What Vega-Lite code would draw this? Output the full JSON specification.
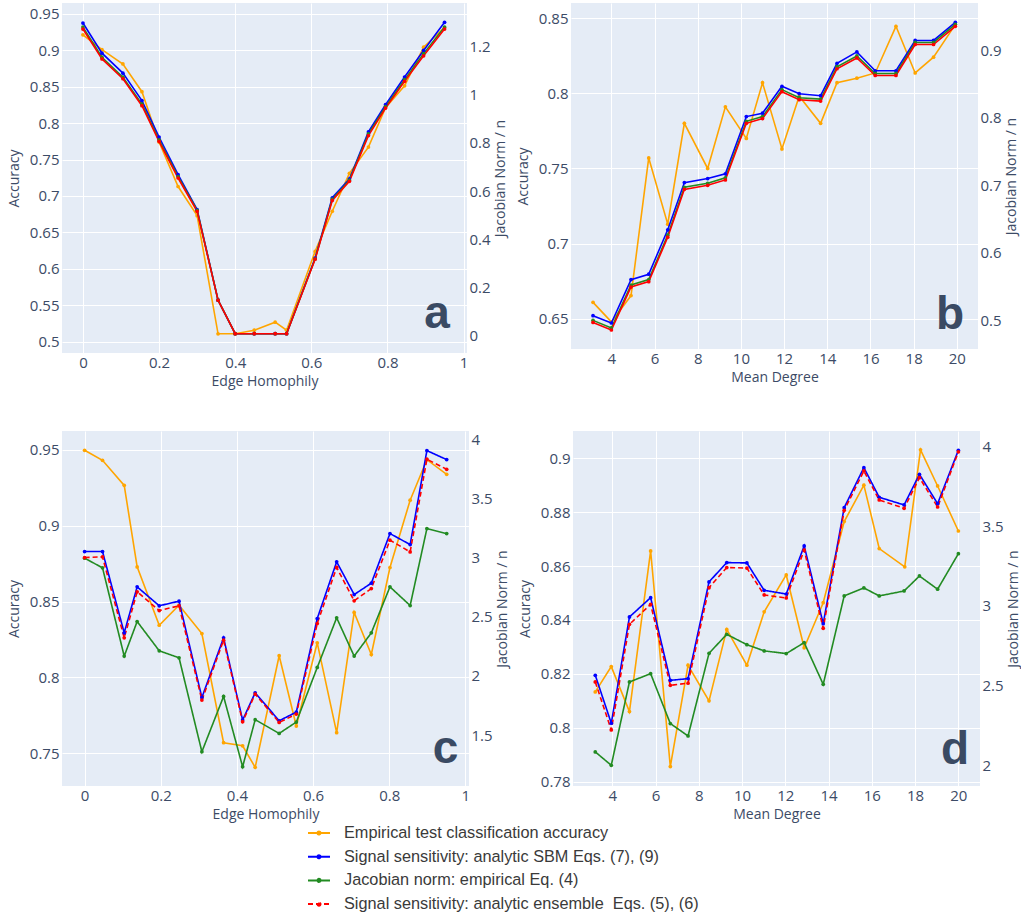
{
"$schema": "https://vega.github.io/schema/vega-lite/v6.json",
"padding": {"left": 7, "top": 3, "right": 0, "bottom": 0},
"background": "white",
"data": {"name": "all"},
"datasets": {"all": [
{"p":"a","s":"acc","x":0,"v":0.921},{"p":"a","s":"acc","x":0.05,"v":0.9006},{"p":"a","s":"acc","x":0.105,"v":0.881},{"p":"a","s":"acc","x":0.155,"v":0.843},{"p":"a","s":"acc","x":0.2,"v":0.774},{"p":"a","s":"acc","x":0.25,"v":0.713},{"p":"a","s":"acc","x":0.3,"v":0.673},{"p":"a","s":"acc","x":0.355,"v":0.511},{"p":"a","s":"acc","x":0.4,"v":0.511},{"p":"a","s":"acc","x":0.45,"v":0.516},{"p":"a","s":"acc","x":0.505,"v":0.527},{"p":"a","s":"acc","x":0.535,"v":0.516},{"p":"a","s":"acc","x":0.61,"v":0.624},{"p":"a","s":"acc","x":0.655,"v":0.679},{"p":"a","s":"acc","x":0.7,"v":0.731},{"p":"a","s":"acc","x":0.75,"v":0.767},{"p":"a","s":"acc","x":0.795,"v":0.821},{"p":"a","s":"acc","x":0.845,"v":0.851},{"p":"a","s":"acc","x":0.895,"v":0.904},{"p":"a","s":"acc","x":0.95,"v":0.931},
{"p":"a","s":"sbm","x":0,"v":1.297},{"p":"a","s":"sbm","x":0.05,"v":1.172},{"p":"a","s":"sbm","x":0.105,"v":1.089},{"p":"a","s":"sbm","x":0.155,"v":0.975},{"p":"a","s":"sbm","x":0.2,"v":0.824},{"p":"a","s":"sbm","x":0.25,"v":0.668},{"p":"a","s":"sbm","x":0.3,"v":0.523},{"p":"a","s":"sbm","x":0.355,"v":0.147},{"p":"a","s":"sbm","x":0.4,"v":0.008},{"p":"a","s":"sbm","x":0.45,"v":0.008},{"p":"a","s":"sbm","x":0.505,"v":0.008},{"p":"a","s":"sbm","x":0.535,"v":0.008},{"p":"a","s":"sbm","x":0.61,"v":0.322},{"p":"a","s":"sbm","x":0.655,"v":0.572},{"p":"a","s":"sbm","x":0.7,"v":0.65},{"p":"a","s":"sbm","x":0.75,"v":0.845},{"p":"a","s":"sbm","x":0.795,"v":0.958},{"p":"a","s":"sbm","x":0.845,"v":1.073},{"p":"a","s":"sbm","x":0.895,"v":1.183},{"p":"a","s":"sbm","x":0.95,"v":1.3},
{"p":"a","s":"jac","x":0,"v":1.28},{"p":"a","s":"jac","x":0.05,"v":1.155},{"p":"a","s":"jac","x":0.105,"v":1.072},{"p":"a","s":"jac","x":0.155,"v":0.96},{"p":"a","s":"jac","x":0.2,"v":0.812},{"p":"a","s":"jac","x":0.25,"v":0.66},{"p":"a","s":"jac","x":0.3,"v":0.52},{"p":"a","s":"jac","x":0.355,"v":0.147},{"p":"a","s":"jac","x":0.4,"v":0.008},{"p":"a","s":"jac","x":0.45,"v":0.008},{"p":"a","s":"jac","x":0.505,"v":0.008},{"p":"a","s":"jac","x":0.535,"v":0.008},{"p":"a","s":"jac","x":0.61,"v":0.319},{"p":"a","s":"jac","x":0.655,"v":0.566},{"p":"a","s":"jac","x":0.7,"v":0.645},{"p":"a","s":"jac","x":0.75,"v":0.837},{"p":"a","s":"jac","x":0.795,"v":0.95},{"p":"a","s":"jac","x":0.845,"v":1.062},{"p":"a","s":"jac","x":0.895,"v":1.17},{"p":"a","s":"jac","x":0.95,"v":1.28},
{"p":"a","s":"ens","x":0,"v":1.272},{"p":"a","s":"ens","x":0.05,"v":1.148},{"p":"a","s":"ens","x":0.105,"v":1.066},{"p":"a","s":"ens","x":0.155,"v":0.954},{"p":"a","s":"ens","x":0.2,"v":0.806},{"p":"a","s":"ens","x":0.25,"v":0.654},{"p":"a","s":"ens","x":0.3,"v":0.516},{"p":"a","s":"ens","x":0.355,"v":0.147},{"p":"a","s":"ens","x":0.4,"v":0.008},{"p":"a","s":"ens","x":0.45,"v":0.008},{"p":"a","s":"ens","x":0.505,"v":0.008},{"p":"a","s":"ens","x":0.535,"v":0.008},{"p":"a","s":"ens","x":0.61,"v":0.317},{"p":"a","s":"ens","x":0.655,"v":0.561},{"p":"a","s":"ens","x":0.7,"v":0.64},{"p":"a","s":"ens","x":0.75,"v":0.83},{"p":"a","s":"ens","x":0.795,"v":0.944},{"p":"a","s":"ens","x":0.845,"v":1.055},{"p":"a","s":"ens","x":0.895,"v":1.161},{"p":"a","s":"ens","x":0.95,"v":1.272},
{"p":"b","s":"acc","x":3.15,"v":0.661},{"p":"b","s":"acc","x":4,"v":0.648},{"p":"b","s":"acc","x":4.91,"v":0.6655},{"p":"b","s":"acc","x":5.73,"v":0.757},{"p":"b","s":"acc","x":6.61,"v":0.713},{"p":"b","s":"acc","x":7.38,"v":0.78},{"p":"b","s":"acc","x":8.46,"v":0.75},{"p":"b","s":"acc","x":9.28,"v":0.791},{"p":"b","s":"acc","x":10.25,"v":0.77},{"p":"b","s":"acc","x":11.0,"v":0.807},{"p":"b","s":"acc","x":11.9,"v":0.763},{"p":"b","s":"acc","x":12.7,"v":0.798},{"p":"b","s":"acc","x":13.69,"v":0.78},{"p":"b","s":"acc","x":14.45,"v":0.807},{"p":"b","s":"acc","x":15.37,"v":0.81},{"p":"b","s":"acc","x":16.22,"v":0.8135},{"p":"b","s":"acc","x":17.18,"v":0.8445},{"p":"b","s":"acc","x":18.07,"v":0.8135},{"p":"b","s":"acc","x":18.92,"v":0.824},{"p":"b","s":"acc","x":19.93,"v":0.8456},
{"p":"b","s":"sbm","x":3.15,"v":0.5064},{"p":"b","s":"sbm","x":4,"v":0.4956},{"p":"b","s":"sbm","x":4.91,"v":0.56},{"p":"b","s":"sbm","x":5.73,"v":0.568},{"p":"b","s":"sbm","x":6.61,"v":0.634},{"p":"b","s":"sbm","x":7.38,"v":0.704},{"p":"b","s":"sbm","x":8.46,"v":0.71},{"p":"b","s":"sbm","x":9.28,"v":0.717},{"p":"b","s":"sbm","x":10.25,"v":0.802},{"p":"b","s":"sbm","x":11.0,"v":0.807},{"p":"b","s":"sbm","x":11.9,"v":0.847},{"p":"b","s":"sbm","x":12.7,"v":0.836},{"p":"b","s":"sbm","x":13.69,"v":0.833},{"p":"b","s":"sbm","x":14.45,"v":0.881},{"p":"b","s":"sbm","x":15.37,"v":0.898},{"p":"b","s":"sbm","x":16.22,"v":0.87},{"p":"b","s":"sbm","x":17.18,"v":0.87},{"p":"b","s":"sbm","x":18.07,"v":0.915},{"p":"b","s":"sbm","x":18.92,"v":0.915},{"p":"b","s":"sbm","x":19.93,"v":0.942},
{"p":"b","s":"jac","x":3.15,"v":0.4995},{"p":"b","s":"jac","x":4,"v":0.4882},{"p":"b","s":"jac","x":4.91,"v":0.552},{"p":"b","s":"jac","x":5.73,"v":0.56},{"p":"b","s":"jac","x":6.61,"v":0.626},{"p":"b","s":"jac","x":7.38,"v":0.697},{"p":"b","s":"jac","x":8.46,"v":0.703},{"p":"b","s":"jac","x":9.28,"v":0.711},{"p":"b","s":"jac","x":10.25,"v":0.795},{"p":"b","s":"jac","x":11.0,"v":0.802},{"p":"b","s":"jac","x":11.9,"v":0.842},{"p":"b","s":"jac","x":12.7,"v":0.83},{"p":"b","s":"jac","x":13.69,"v":0.828},{"p":"b","s":"jac","x":14.45,"v":0.876},{"p":"b","s":"jac","x":15.37,"v":0.892},{"p":"b","s":"jac","x":16.22,"v":0.866},{"p":"b","s":"jac","x":17.18,"v":0.866},{"p":"b","s":"jac","x":18.07,"v":0.912},{"p":"b","s":"jac","x":18.92,"v":0.912},{"p":"b","s":"jac","x":19.93,"v":0.939},
{"p":"b","s":"ens","x":3.15,"v":0.4965},{"p":"b","s":"ens","x":4,"v":0.4852},{"p":"b","s":"ens","x":4.91,"v":0.549},{"p":"b","s":"ens","x":5.73,"v":0.557},{"p":"b","s":"ens","x":6.61,"v":0.623},{"p":"b","s":"ens","x":7.38,"v":0.694},{"p":"b","s":"ens","x":8.46,"v":0.7},{"p":"b","s":"ens","x":9.28,"v":0.708},{"p":"b","s":"ens","x":10.25,"v":0.792},{"p":"b","s":"ens","x":11.0,"v":0.799},{"p":"b","s":"ens","x":11.9,"v":0.839},{"p":"b","s":"ens","x":12.7,"v":0.827},{"p":"b","s":"ens","x":13.69,"v":0.825},{"p":"b","s":"ens","x":14.45,"v":0.873},{"p":"b","s":"ens","x":15.37,"v":0.889},{"p":"b","s":"ens","x":16.22,"v":0.863},{"p":"b","s":"ens","x":17.18,"v":0.863},{"p":"b","s":"ens","x":18.07,"v":0.909},{"p":"b","s":"ens","x":18.92,"v":0.909},{"p":"b","s":"ens","x":19.93,"v":0.936},
{"p":"c","s":"acc","x":0,"v":0.9496},{"p":"c","s":"acc","x":0.047,"v":0.943},{"p":"c","s":"acc","x":0.104,"v":0.9265},{"p":"c","s":"acc","x":0.138,"v":0.8728},{"p":"c","s":"acc","x":0.196,"v":0.8344},{"p":"c","s":"acc","x":0.248,"v":0.8476},{"p":"c","s":"acc","x":0.308,"v":0.8289},{"p":"c","s":"acc","x":0.365,"v":0.757},{"p":"c","s":"acc","x":0.415,"v":0.755},{"p":"c","s":"acc","x":0.448,"v":0.7408},{"p":"c","s":"acc","x":0.511,"v":0.8143},{"p":"c","s":"acc","x":0.556,"v":0.768},{"p":"c","s":"acc","x":0.611,"v":0.8228},{"p":"c","s":"acc","x":0.662,"v":0.7636},{"p":"c","s":"acc","x":0.708,"v":0.8428},{"p":"c","s":"acc","x":0.753,"v":0.8151},{"p":"c","s":"acc","x":0.802,"v":0.8724},{"p":"c","s":"acc","x":0.855,"v":0.9167},{"p":"c","s":"acc","x":0.899,"v":0.9434},{"p":"c","s":"acc","x":0.951,"v":0.9338},
{"p":"c","s":"sbm","x":0,"v":3.053},{"p":"c","s":"sbm","x":0.047,"v":3.053},{"p":"c","s":"sbm","x":0.104,"v":2.365},{"p":"c","s":"sbm","x":0.138,"v":2.754},{"p":"c","s":"sbm","x":0.196,"v":2.594},{"p":"c","s":"sbm","x":0.248,"v":2.633},{"p":"c","s":"sbm","x":0.308,"v":1.818},{"p":"c","s":"sbm","x":0.365,"v":2.323},{"p":"c","s":"sbm","x":0.415,"v":1.627},{"p":"c","s":"sbm","x":0.448,"v":1.858},{"p":"c","s":"sbm","x":0.511,"v":1.621},{"p":"c","s":"sbm","x":0.556,"v":1.694},{"p":"c","s":"sbm","x":0.611,"v":2.486},{"p":"c","s":"sbm","x":0.662,"v":2.966},{"p":"c","s":"sbm","x":0.708,"v":2.689},{"p":"c","s":"sbm","x":0.753,"v":2.785},{"p":"c","s":"sbm","x":0.802,"v":3.205},{"p":"c","s":"sbm","x":0.855,"v":3.112},{"p":"c","s":"sbm","x":0.899,"v":3.907},{"p":"c","s":"sbm","x":0.951,"v":3.831},
{"p":"c","s":"jac","x":0,"v":2.997},{"p":"c","s":"jac","x":0.047,"v":2.915},{"p":"c","s":"jac","x":0.104,"v":2.168},{"p":"c","s":"jac","x":0.138,"v":2.461},{"p":"c","s":"jac","x":0.196,"v":2.213},{"p":"c","s":"jac","x":0.248,"v":2.154},{"p":"c","s":"jac","x":0.308,"v":1.359},{"p":"c","s":"jac","x":0.365,"v":1.827},{"p":"c","s":"jac","x":0.415,"v":1.232},{"p":"c","s":"jac","x":0.448,"v":1.63},{"p":"c","s":"jac","x":0.511,"v":1.514},{"p":"c","s":"jac","x":0.556,"v":1.61},{"p":"c","s":"jac","x":0.611,"v":2.072},{"p":"c","s":"jac","x":0.662,"v":2.492},{"p":"c","s":"jac","x":0.708,"v":2.168},{"p":"c","s":"jac","x":0.753,"v":2.365},{"p":"c","s":"jac","x":0.802,"v":2.754},{"p":"c","s":"jac","x":0.855,"v":2.596},{"p":"c","s":"jac","x":0.899,"v":3.247},{"p":"c","s":"jac","x":0.951,"v":3.205},
{"p":"c","s":"ens","x":0,"v":3.002},{"p":"c","s":"ens","x":0.047,"v":3.008},{"p":"c","s":"ens","x":0.104,"v":2.323},{"p":"c","s":"ens","x":0.138,"v":2.712},{"p":"c","s":"ens","x":0.196,"v":2.554},{"p":"c","s":"ens","x":0.248,"v":2.594},{"p":"c","s":"ens","x":0.308,"v":1.796},{"p":"c","s":"ens","x":0.365,"v":2.303},{"p":"c","s":"ens","x":0.415,"v":1.613},{"p":"c","s":"ens","x":0.448,"v":1.847},{"p":"c","s":"ens","x":0.511,"v":1.607},{"p":"c","s":"ens","x":0.556,"v":1.678},{"p":"c","s":"ens","x":0.611,"v":2.444},{"p":"c","s":"ens","x":0.662,"v":2.918},{"p":"c","s":"ens","x":0.708,"v":2.636},{"p":"c","s":"ens","x":0.753,"v":2.74},{"p":"c","s":"ens","x":0.802,"v":3.149},{"p":"c","s":"ens","x":0.855,"v":3.05},{"p":"c","s":"ens","x":0.899,"v":3.834},{"p":"c","s":"ens","x":0.951,"v":3.749},
{"p":"d","s":"acc","x":3.21,"v":0.8133},{"p":"d","s":"acc","x":3.95,"v":0.8227},{"p":"d","s":"acc","x":4.79,"v":0.806},{"p":"d","s":"acc","x":5.77,"v":0.8656},{"p":"d","s":"acc","x":6.68,"v":0.7856},{"p":"d","s":"acc","x":7.5,"v":0.8232},{"p":"d","s":"acc","x":8.47,"v":0.81},{"p":"d","s":"acc","x":9.29,"v":0.8365},{"p":"d","s":"acc","x":10.22,"v":0.8232},{"p":"d","s":"acc","x":11.02,"v":0.843},{"p":"d","s":"acc","x":12.04,"v":0.8567},{"p":"d","s":"acc","x":12.87,"v":0.8297},{"p":"d","s":"acc","x":13.75,"v":0.8464},{"p":"d","s":"acc","x":14.72,"v":0.8765},{"p":"d","s":"acc","x":15.63,"v":0.89},{"p":"d","s":"acc","x":16.34,"v":0.8665},{"p":"d","s":"acc","x":17.52,"v":0.8597},{"p":"d","s":"acc","x":18.25,"v":0.9031},{"p":"d","s":"acc","x":19.04,"v":0.8897},{"p":"d","s":"acc","x":20.0,"v":0.873},
{"p":"d","s":"sbm","x":3.21,"v":2.565},{"p":"d","s":"sbm","x":3.95,"v":2.264},{"p":"d","s":"sbm","x":4.79,"v":2.931},{"p":"d","s":"sbm","x":5.77,"v":3.052},{"p":"d","s":"sbm","x":6.68,"v":2.533},{"p":"d","s":"sbm","x":7.5,"v":2.544},{"p":"d","s":"sbm","x":8.47,"v":3.151},{"p":"d","s":"sbm","x":9.29,"v":3.272},{"p":"d","s":"sbm","x":10.22,"v":3.27},{"p":"d","s":"sbm","x":11.02,"v":3.098},{"p":"d","s":"sbm","x":12.04,"v":3.075},{"p":"d","s":"sbm","x":12.87,"v":3.377},{"p":"d","s":"sbm","x":13.75,"v":2.889},{"p":"d","s":"sbm","x":14.72,"v":3.617},{"p":"d","s":"sbm","x":15.63,"v":3.868},{"p":"d","s":"sbm","x":16.34,"v":3.682},{"p":"d","s":"sbm","x":17.49,"v":3.634},{"p":"d","s":"sbm","x":18.2,"v":3.826},{"p":"d","s":"sbm","x":19.04,"v":3.642},{"p":"d","s":"sbm","x":20.0,"v":3.977},
{"p":"d","s":"jac","x":3.21,"v":2.084},{"p":"d","s":"jac","x":3.95,"v":2.0},{"p":"d","s":"jac","x":4.79,"v":2.523},{"p":"d","s":"jac","x":5.77,"v":2.575},{"p":"d","s":"jac","x":6.68,"v":2.262},{"p":"d","s":"jac","x":7.5,"v":2.184},{"p":"d","s":"jac","x":8.47,"v":2.703},{"p":"d","s":"jac","x":9.29,"v":2.822},{"p":"d","s":"jac","x":10.22,"v":2.757},{"p":"d","s":"jac","x":11.02,"v":2.718},{"p":"d","s":"jac","x":12.04,"v":2.701},{"p":"d","s":"jac","x":12.87,"v":2.77},{"p":"d","s":"jac","x":13.75,"v":2.508},{"p":"d","s":"jac","x":14.72,"v":3.063},{"p":"d","s":"jac","x":15.63,"v":3.113},{"p":"d","s":"jac","x":16.34,"v":3.063},{"p":"d","s":"jac","x":17.49,"v":3.094},{"p":"d","s":"jac","x":18.2,"v":3.188},{"p":"d","s":"jac","x":19.04,"v":3.105},{"p":"d","s":"jac","x":20.0,"v":3.328},
{"p":"d","s":"ens","x":3.21,"v":2.523},{"p":"d","s":"ens","x":3.95,"v":2.222},{"p":"d","s":"ens","x":4.79,"v":2.885},{"p":"d","s":"ens","x":5.77,"v":3.01},{"p":"d","s":"ens","x":6.68,"v":2.502},{"p":"d","s":"ens","x":7.5,"v":2.515},{"p":"d","s":"ens","x":8.47,"v":3.115},{"p":"d","s":"ens","x":9.29,"v":3.241},{"p":"d","s":"ens","x":10.22,"v":3.238},{"p":"d","s":"ens","x":11.02,"v":3.069},{"p":"d","s":"ens","x":12.04,"v":3.05},{"p":"d","s":"ens","x":12.87,"v":3.351},{"p":"d","s":"ens","x":13.75,"v":2.86},{"p":"d","s":"ens","x":14.72,"v":3.6},{"p":"d","s":"ens","x":15.63,"v":3.847},{"p":"d","s":"ens","x":16.34,"v":3.665},{"p":"d","s":"ens","x":17.49,"v":3.613},{"p":"d","s":"ens","x":18.2,"v":3.805},{"p":"d","s":"ens","x":19.04,"v":3.621},{"p":"d","s":"ens","x":20.0,"v":3.967}
]},
"vconcat": [
{"hconcat": [
{"width": 405, "height": 350,
 "layer": [
  {"layer": [
    {"transform": [{"filter": "datum.p == 'a' && datum.s == 'acc'"}],
     "mark": {"type": "line", "strokeWidth": 1.6, "point": {"filled": true, "size": 14}},
     "encoding": {
      "x": {"field": "x", "type": "quantitative", "scale": {"domain": [-0.055, 1.009], "nice": false, "zero": false}, "axis": {"title": "Edge Homophily", "values": [0, 0.2, 0.4, 0.6, 0.8, 1], "format": "~g"}},
      "y": {"field": "v", "type": "quantitative", "scale": {"domain": [0.4847, 0.9646], "nice": false, "zero": false}, "axis": {"title": "Accuracy", "values": [0.5, 0.55, 0.6, 0.65, 0.7, 0.75, 0.8, 0.85, 0.9, 0.95], "format": "~g"}},
      "color": {"field": "s", "type": "nominal", "scale": {"domain": ["acc", "sbm", "jac", "ens"], "range": ["#FFA500", "#0000FF", "#228B22", "#FF0000"]}, "legend": {"title": null, "orient": "none", "legendX": 245, "legendY": 818, "direction": "vertical", "labelExpr": "{'acc':'Empirical test classification accuracy','sbm':'Signal sensitivity: analytic SBM Eqs. (7), (9)','jac':'Jacobian norm: empirical Eq. (4)','ens':'\u00a0Signal sensitivity: analytic ensemble\u00a0 Eqs. (5), (6)'}[datum.label]"}}}},
    {"data": {"values": [{}]},
     "mark": {"type": "text", "font": "Liberation Sans", "fontWeight": "bold", "fontSize": 46, "color": "#3a4a63", "align": "center", "baseline": "alphabetic"},
     "encoding": {"x": {"datum": 0.93, "type": "quantitative", "axis": {"title": "Edge Homophily", "values": [0, 0.2, 0.4, 0.6, 0.8, 1], "format": "~g"}}, "y": {"datum": 0.519, "type": "quantitative", "axis": {"title": "Accuracy", "values": [0.5, 0.55, 0.6, 0.65, 0.7, 0.75, 0.8, 0.85, 0.9, 0.95], "format": "~g"}}, "text": {"value": "a"}}}
  ]},
  {"transform": [{"filter": "datum.p == 'a' && datum.s != 'acc'"}],
   "mark": {"type": "line", "strokeWidth": 1.6, "point": {"filled": true, "size": 14}},
   "encoding": {
    "x": {"field": "x", "type": "quantitative", "axis": {"title": "Edge Homophily", "values": [0, 0.2, 0.4, 0.6, 0.8, 1], "format": "~g"}},
    "y": {"field": "v", "type": "quantitative", "scale": {"domain": [-0.072, 1.38], "nice": false, "zero": false}, "axis": {"orient": "right", "grid": false, "title": "Jacobian Norm / n", "titleAngle": 270, "titleBaseline": "top", "values": [0, 0.2, 0.4, 0.6, 0.8, 1, 1.2], "format": "~g"}},
    "color": {"field": "s", "type": "nominal", "legend": {"title": null, "orient": "none", "legendX": 245, "legendY": 818, "direction": "vertical", "labelExpr": "{'acc':'Empirical test classification accuracy','sbm':'Signal sensitivity: analytic SBM Eqs. (7), (9)','jac':'Jacobian norm: empirical Eq. (4)','ens':'\u00a0Signal sensitivity: analytic ensemble\u00a0 Eqs. (5), (6)'}[datum.label]"}}}}
 ],
 "resolve": {"scale": {"y": "independent"}}},
{"width": 407, "height": 346,
 "layer": [
  {"layer": [
    {"transform": [{"filter": "datum.p == 'b' && datum.s == 'acc'"}],
     "mark": {"type": "line", "strokeWidth": 1.6, "point": {"filled": true, "size": 14}},
     "encoding": {
      "x": {"field": "x", "type": "quantitative", "scale": {"domain": [2.13, 20.98], "nice": false, "zero": false}, "axis": {"title": "Mean Degree", "values": [4, 6, 8, 10, 12, 14, 16, 18, 20]}},
      "y": {"field": "v", "type": "quantitative", "scale": {"domain": [0.63, 0.86], "nice": false, "zero": false}, "axis": {"title": "Accuracy", "values": [0.65, 0.7, 0.75, 0.8, 0.85], "format": "~g"}},
      "color": {"field": "s", "type": "nominal", "legend": {"title": null, "orient": "none", "legendX": 245, "legendY": 818, "direction": "vertical", "labelExpr": "{'acc':'Empirical test classification accuracy','sbm':'Signal sensitivity: analytic SBM Eqs. (7), (9)','jac':'Jacobian norm: empirical Eq. (4)','ens':'\u00a0Signal sensitivity: analytic ensemble\u00a0 Eqs. (5), (6)'}[datum.label]"}}}},
    {"data": {"values": [{}]},
     "mark": {"type": "text", "font": "Liberation Sans", "fontWeight": "bold", "fontSize": 46, "color": "#3a4a63", "align": "center", "baseline": "alphabetic"},
     "encoding": {"x": {"datum": 19.69, "type": "quantitative", "axis": {"title": "Mean Degree", "values": [4, 6, 8, 10, 12, 14, 16, 18, 20]}}, "y": {"datum": 0.6434, "type": "quantitative", "axis": {"title": "Accuracy", "values": [0.65, 0.7, 0.75, 0.8, 0.85], "format": "~g"}}, "text": {"value": "b"}}}
  ]},
  {"transform": [{"filter": "datum.p == 'b' && datum.s != 'acc'"}],
   "mark": {"type": "line", "strokeWidth": 1.6, "point": {"filled": true, "size": 14}},
   "encoding": {
    "x": {"field": "x", "type": "quantitative", "axis": {"title": "Mean Degree", "values": [4, 6, 8, 10, 12, 14, 16, 18, 20]}},
    "y": {"field": "v", "type": "quantitative", "scale": {"domain": [0.457, 0.9706], "nice": false, "zero": false}, "axis": {"orient": "right", "grid": false, "title": "Jacobian Norm / n", "titleAngle": 270, "titleBaseline": "top", "values": [0.5, 0.6, 0.7, 0.8, 0.9], "format": "~g"}},
    "color": {"field": "s", "type": "nominal", "legend": {"title": null, "orient": "none", "legendX": 245, "legendY": 818, "direction": "vertical", "labelExpr": "{'acc':'Empirical test classification accuracy','sbm':'Signal sensitivity: analytic SBM Eqs. (7), (9)','jac':'Jacobian norm: empirical Eq. (4)','ens':'\u00a0Signal sensitivity: analytic ensemble\u00a0 Eqs. (5), (6)'}[datum.label]"}}}}
 ],
 "resolve": {"scale": {"y": "independent"}}}
], "spacing": 8},
{"hconcat": [
{"width": 407, "height": 355,
 "layer": [
  {"layer": [
    {"transform": [{"filter": "datum.p == 'c' && datum.s == 'acc'"}],
     "mark": {"type": "line", "strokeWidth": 1.6, "point": {"filled": true, "size": 14}},
     "encoding": {
      "x": {"field": "x", "type": "quantitative", "scale": {"domain": [-0.0594, 1.0096], "nice": false, "zero": false}, "axis": {"title": "Edge Homophily", "values": [0, 0.2, 0.4, 0.6, 0.8, 1], "format": "~g"}},
      "y": {"field": "v", "type": "quantitative", "scale": {"domain": [0.7285, 0.9623], "nice": false, "zero": false}, "axis": {"title": "Accuracy", "values": [0.75, 0.8, 0.85, 0.9, 0.95], "format": "~g"}},
      "color": {"field": "s", "type": "nominal", "legend": {"title": null, "orient": "none", "legendX": 245, "legendY": 818, "direction": "vertical", "labelExpr": "{'acc':'Empirical test classification accuracy','sbm':'Signal sensitivity: analytic SBM Eqs. (7), (9)','jac':'Jacobian norm: empirical Eq. (4)','ens':'\u00a0Signal sensitivity: analytic ensemble\u00a0 Eqs. (5), (6)'}[datum.label]"}}}},
    {"data": {"values": [{}]},
     "mark": {"type": "text", "font": "Liberation Sans", "fontWeight": "bold", "fontSize": 46, "color": "#3a4a63", "align": "center", "baseline": "alphabetic"},
     "encoding": {"x": {"datum": 0.948, "type": "quantitative", "axis": {"title": "Edge Homophily", "values": [0, 0.2, 0.4, 0.6, 0.8, 1], "format": "~g"}}, "y": {"datum": 0.7439, "type": "quantitative", "axis": {"title": "Accuracy", "values": [0.75, 0.8, 0.85, 0.9, 0.95], "format": "~g"}}, "text": {"value": "c"}}}
  ]},
  {"transform": [{"filter": "datum.p == 'c' && datum.s != 'acc'"}],
   "mark": {"type": "line", "strokeWidth": 1.6, "point": {"filled": true, "size": 14}},
   "encoding": {
    "x": {"field": "x", "type": "quantitative", "axis": {"title": "Edge Homophily", "values": [0, 0.2, 0.4, 0.6, 0.8, 1], "format": "~g"}},
    "y": {"field": "v", "type": "quantitative", "scale": {"domain": [1.069, 4.073], "nice": false, "zero": false}, "axis": {"orient": "right", "grid": false, "title": "Jacobian Norm / n", "titleAngle": 270, "titleBaseline": "top", "values": [1.5, 2, 2.5, 3, 3.5, 4], "format": "~g"}},
    "color": {"field": "s", "type": "nominal", "legend": {"title": null, "orient": "none", "legendX": 245, "legendY": 818, "direction": "vertical", "labelExpr": "{'acc':'Empirical test classification accuracy','sbm':'Signal sensitivity: analytic SBM Eqs. (7), (9)','jac':'Jacobian norm: empirical Eq. (4)','ens':'\u00a0Signal sensitivity: analytic ensemble\u00a0 Eqs. (5), (6)'}[datum.label]"}},
    "strokeDash": {"field": "s", "type": "nominal", "scale": {"domain": ["acc", "sbm", "jac", "ens"], "range": [[1, 0], [1, 0], [1, 0], [5, 3]]}, "legend": {"title": null, "orient": "none", "legendX": 245, "legendY": 818, "direction": "vertical", "labelExpr": "{'acc':'Empirical test classification accuracy','sbm':'Signal sensitivity: analytic SBM Eqs. (7), (9)','jac':'Jacobian norm: empirical Eq. (4)','ens':'\u00a0Signal sensitivity: analytic ensemble\u00a0 Eqs. (5), (6)'}[datum.label]"}}}}
 ],
 "resolve": {"scale": {"y": "independent"}}},
{"width": 407, "height": 355,
 "layer": [
  {"layer": [
    {"transform": [{"filter": "datum.p == 'd' && datum.s == 'acc'"}],
     "mark": {"type": "line", "strokeWidth": 1.6, "point": {"filled": true, "size": 14}},
     "encoding": {
      "x": {"field": "x", "type": "quantitative", "scale": {"domain": [2.18, 21.0], "nice": false, "zero": false}, "axis": {"title": "Mean Degree", "values": [4, 6, 8, 10, 12, 14, 16, 18, 20]}},
      "y": {"field": "v", "type": "quantitative", "scale": {"domain": [0.7784, 0.9101], "nice": false, "zero": false}, "axis": {"title": "Accuracy", "values": [0.78, 0.8, 0.82, 0.84, 0.86, 0.88, 0.9], "format": "~g"}},
      "color": {"field": "s", "type": "nominal", "legend": {"title": null, "orient": "none", "legendX": 245, "legendY": 818, "direction": "vertical", "labelExpr": "{'acc':'Empirical test classification accuracy','sbm':'Signal sensitivity: analytic SBM Eqs. (7), (9)','jac':'Jacobian norm: empirical Eq. (4)','ens':'\u00a0Signal sensitivity: analytic ensemble\u00a0 Eqs. (5), (6)'}[datum.label]"}}}},
    {"data": {"values": [{}]},
     "mark": {"type": "text", "font": "Liberation Sans", "fontWeight": "bold", "fontSize": 46, "color": "#3a4a63", "align": "center", "baseline": "alphabetic"},
     "encoding": {"x": {"datum": 19.85, "type": "quantitative", "axis": {"title": "Mean Degree", "values": [4, 6, 8, 10, 12, 14, 16, 18, 20]}}, "y": {"datum": 0.7864, "type": "quantitative", "axis": {"title": "Accuracy", "values": [0.78, 0.8, 0.82, 0.84, 0.86, 0.88, 0.9], "format": "~g"}}, "text": {"value": "d"}}}
  ]},
  {"transform": [{"filter": "datum.p == 'd' && datum.s != 'acc'"}],
   "mark": {"type": "line", "strokeWidth": 1.6, "point": {"filled": true, "size": 14}},
   "encoding": {
    "x": {"field": "x", "type": "quantitative", "axis": {"title": "Mean Degree", "values": [4, 6, 8, 10, 12, 14, 16, 18, 20]}},
    "y": {"field": "v", "type": "quantitative", "scale": {"domain": [1.87, 4.098], "nice": false, "zero": false}, "axis": {"orient": "right", "grid": false, "title": "Jacobian Norm / n", "titleAngle": 270, "titleBaseline": "top", "values": [2, 2.5, 3, 3.5, 4], "format": "~g"}},
    "color": {"field": "s", "type": "nominal", "legend": {"title": null, "orient": "none", "legendX": 245, "legendY": 818, "direction": "vertical", "labelExpr": "{'acc':'Empirical test classification accuracy','sbm':'Signal sensitivity: analytic SBM Eqs. (7), (9)','jac':'Jacobian norm: empirical Eq. (4)','ens':'\u00a0Signal sensitivity: analytic ensemble\u00a0 Eqs. (5), (6)'}[datum.label]"}},
    "strokeDash": {"field": "s", "type": "nominal", "legend": {"title": null, "orient": "none", "legendX": 245, "legendY": 818, "direction": "vertical", "labelExpr": "{'acc':'Empirical test classification accuracy','sbm':'Signal sensitivity: analytic SBM Eqs. (7), (9)','jac':'Jacobian norm: empirical Eq. (4)','ens':'\u00a0Signal sensitivity: analytic ensemble\u00a0 Eqs. (5), (6)'}[datum.label]"}}}}
 ],
 "resolve": {"scale": {"y": "independent"}}}
], "spacing": 8}
],
"spacing": 43,
"config": {
 "view": {"fill": "#E5ECF6", "stroke": null},
 "axis": {"domain": false, "ticks": false, "labelOverlap": false, "gridColor": "#FFFFFF", "gridWidth": 1, "labelFont": "Open Sans", "labelFontSize": 15, "labelColor": "#3c4b66", "labelPadding": 3, "titleFont": "Open Sans", "titleFontSize": 14, "titleFontWeight": "normal", "titleColor": "#3c4b66", "titlePadding": 8},
 "axisX": {"labelPadding": 2, "titlePadding": 4},
 "axisRight": {"labelPadding": 2, "titlePadding": 3},
 "legend": {"symbolType": "M-1,0H1M0.14,0A0.14,0.14,0,1,1,-0.14,0A0.14,0.14,0,1,1,0.14,0", "symbolSize": 484, "symbolStrokeWidth": 2, "labelFont": "Liberation Sans", "labelFontSize": 16.3, "labelColor": "#3a3a3a", "rowPadding": 2.7, "labelOffset": 13, "padding": 0, "labelLimit": 0}
}
}
